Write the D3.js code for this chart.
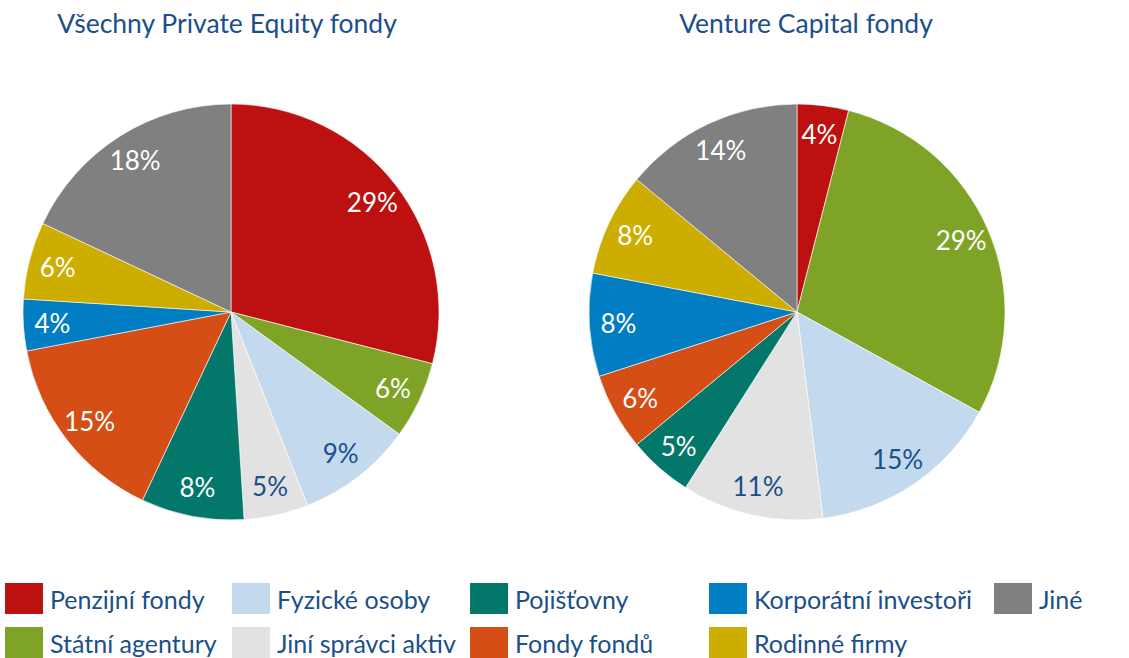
<!DOCTYPE html>
<html>
<head>
<meta charset="utf-8">
<script src="https://cdn.jsdelivr.net/npm/d3@7"></script>
<style>
  html, body { margin: 0; padding: 0; background: #fff; }
  svg { display: block; font-family: Lato, "Open Sans", sans-serif; }
</style>
</head>
<body>
<div id="chart"></div>
<script>
// Data
const categories = ['Penzijní fondy', 'Státní agentury', 'Fyzické osoby', 'Jiní správci aktiv',
    'Pojišťovny', 'Fondy fondů', 'Korporátní investoři', 'Rodinné firmy', 'Jiné'];
const peValues = [29, 6, 9, 5, 8, 15, 4, 6, 18];
const vcValues = [4, 29, 15, 11, 5, 6, 8, 8, 14];
const titles = ['Všechny Private Equity fondy', 'Venture Capital fondy'];
const colors = ['#bd1010', '#7fa326', '#c2d9ee', '#e3e2e3', '#04776b', '#d44e16', '#007dc3', '#cdad00', '#808080'];
const darkLabel = ['Fyzické osoby', 'Jiní správci aktiv'];

const width = 1129;
const height = 658;
const textBlue = '#1b4f8a';
const radius = 208;

const color = d3.scaleOrdinal().domain(categories).range(colors);

const svg = d3.select('#chart')
    .append('svg')
    .attr('width', width)
    .attr('height', height);

const pie = d3.pie().sort(null).value(d => d.value);
const arc = d3.arc().innerRadius(0).outerRadius(radius);
const labelArc = d3.arc().innerRadius(radius * 0.86).outerRadius(radius * 0.86);

function drawPie(values, cx, cy, title, titleX) {
    const data = categories.map((c, i) => ({category: c, value: values[i]}));
    const g = svg.append('g').attr('transform', `translate(${cx},${cy})`);

    g.selectAll('path')
        .data(pie(data))
        .join('path')
        .attr('d', arc)
        .attr('fill', d => color(d.data.category))
        .attr('stroke', '#fff')
        .attr('stroke-width', 0.6);

    g.selectAll('text')
        .data(pie(data))
        .join('text')
        .attr('transform', d => `translate(${labelArc.centroid(d)})`)
        .attr('text-anchor', 'middle')
        .attr('dy', '0.36em')
        .attr('font-size', 26)
        .attr('fill', d => darkLabel.includes(d.data.category) ? textBlue : '#fff')
        .text(d => d.data.value + '%');

    svg.append('text')
        .attr('x', titleX)
        .attr('y', 33)
        .attr('text-anchor', 'middle')
        .attr('font-size', 26.5)
        .attr('fill', textBlue)
        .text(title);
}

drawPie(peValues, 231, 312, titles[0], 227);
drawPie(vcValues, 797, 312, titles[1], 806);

// Legend: 2 rows, column-major
const colX = [5, 232, 470, 709, 994];
const rowY = [583, 627];
const legend = svg.append('g').attr('class', 'legend');
const items = legend.selectAll('g')
    .data(categories)
    .join('g')
    .attr('transform', (d, i) => `translate(${colX[Math.floor(i / 2)]},${rowY[i % 2]})`);

items.append('rect')
    .attr('width', 38)
    .attr('height', 31)
    .attr('fill', d => color(d));

items.append('text')
    .attr('x', 45)
    .attr('y', 26)
    .attr('font-size', 25)
    .attr('fill', textBlue)
    .text(d => d);
</script>
</body>
</html>
